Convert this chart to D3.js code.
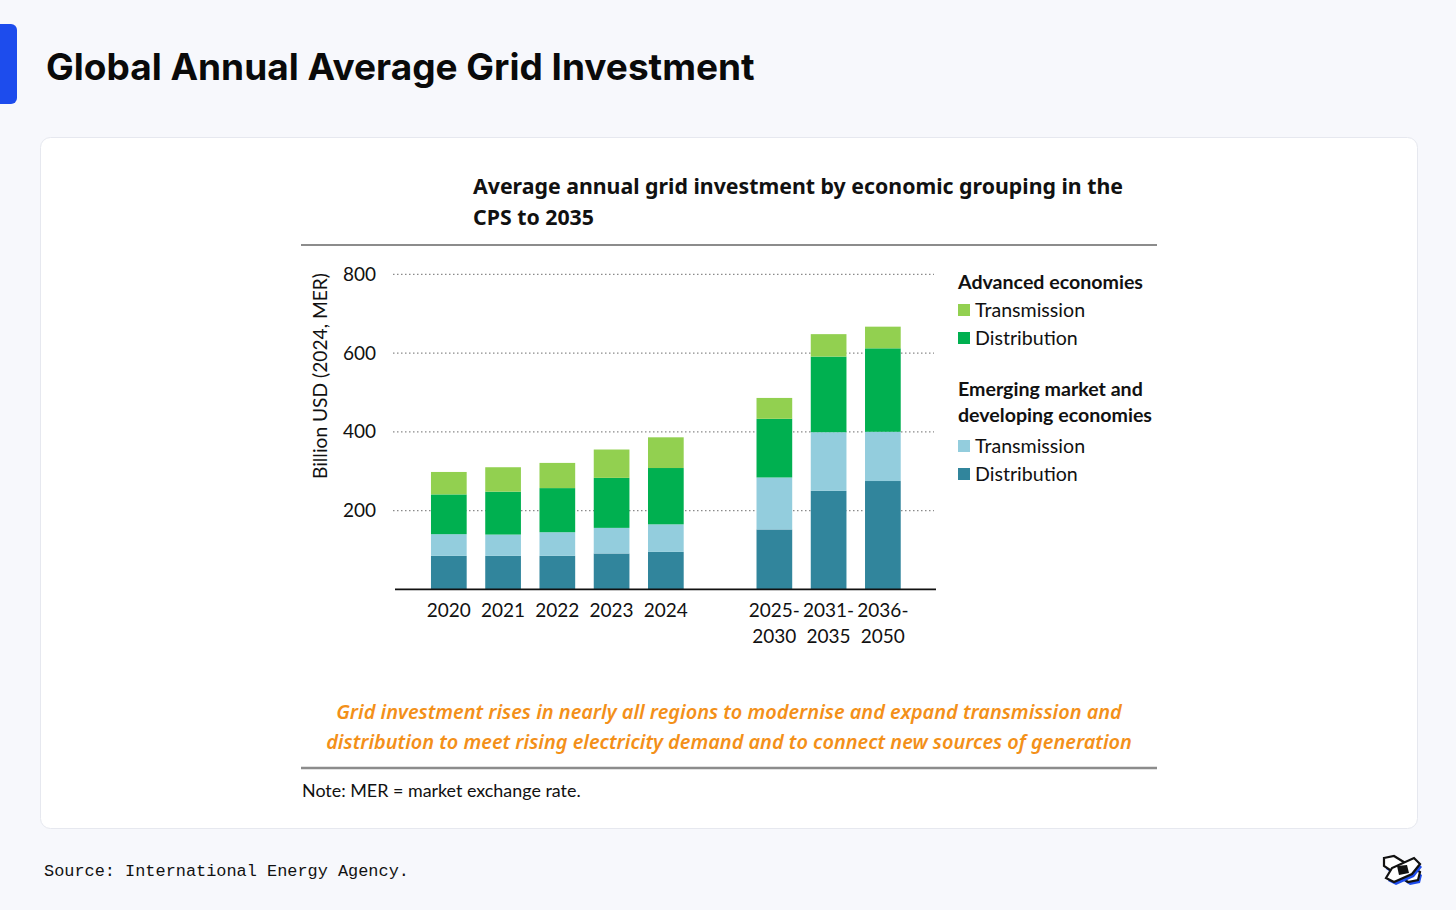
<!DOCTYPE html>
<html>
<head>
<meta charset="utf-8">
<script src="https://cdn.jsdelivr.net/npm/d3@7"></script>
<style>
  body { margin: 0; background: #f7f8fc; }
  svg { display: block; }
</style>
</head>
<body>
<svg width="1456" height="910"></svg>
<script>
// categories (a blank slot separates history from projections)
const categories = ["2020", "2021", "2022", "2023", "2024", "", "2025-2030", "2031-2035", "2036-2050"];
const tickLabels = [["2020"], ["2021"], ["2022"], ["2023"], ["2024"], [], ["2025-", "2030"], ["2031-", "2035"], ["2036-", "2050"]];

// billion USD (2024, MER), stacked bottom to top
const emdeDistribution = [85, 85, 85, 91, 95, 0, 152, 250, 275];
const emdeTransmission = [55, 54, 60, 65, 70, 0, 132, 149, 125];
const advDistribution  = [101, 109, 112, 127, 143, 0, 149, 192, 212];
const advTransmission  = [57, 62, 64, 72, 78, 0, 53, 57, 55];

const seriesKeys = ["emdeDist", "emdeTrans", "advDist", "advTrans"];
const colors = { emdeDist: "#31859c", emdeTrans: "#93cddd", advDist: "#00b050", advTrans: "#92d050" };
const yTicks = [200, 400, 600, 800];

const rows = categories.map((c, i) => ({
  cat: c,
  emdeDist: emdeDistribution[i],
  emdeTrans: emdeTransmission[i],
  advDist: advDistribution[i],
  advTrans: advTransmission[i]
}));

const svg = d3.select("svg");
const chartFont = "Lato, 'Open Sans', sans-serif";

// page header
svg.append("rect").attr("x", -10).attr("y", 24).attr("width", 27).attr("height", 80)
  .attr("rx", 6).attr("fill", "#1d4ced");
svg.append("text").attr("x", 46).attr("y", 80)
  .attr("font-family", "Inter, sans-serif").attr("font-weight", 700).attr("font-size", 37)
  .attr("fill", "#0a0a0a").text("Global Annual Average Grid Investment");

// card
svg.append("rect").attr("x", 40.5).attr("y", 137.5).attr("width", 1377).attr("height", 691)
  .attr("rx", 10).attr("fill", "#fff").attr("stroke", "#e6e8ef");

// chart title
const titleLines = ["Average annual grid investment by economic grouping in the", "CPS to 2035"];
svg.append("g").selectAll("text").data(titleLines).join("text")
  .attr("x", 473).attr("y", (d, i) => 194 + i * 31)
  .attr("font-family", "'Noto Sans', sans-serif").attr("font-weight", 700).attr("font-size", 21.3)
  .attr("fill", "#111").text(d => d);

svg.append("line").attr("x1", 301).attr("x2", 1157).attr("y1", 245).attr("y2", 245)
  .attr("stroke", "#8c8c8c").attr("stroke-width", 2);

// scales
const x = d3.scaleBand().domain(categories).range([421.7, 910]).paddingInner(0.342).paddingOuter(0.171);
const y = d3.scaleLinear().domain([0, 800]).range([589.3, 274.3]);

// gridlines
svg.append("g").selectAll("line").data(yTicks).join("line")
  .attr("x1", 393).attr("x2", 934)
  .attr("y1", d => y(d)).attr("y2", d => y(d))
  .attr("stroke", "#8a8a8a").attr("stroke-width", 1.3).attr("stroke-dasharray", "1.5,2.5");

// y axis (labels only)
const yAxis = svg.append("g").attr("transform", "translate(382,0)")
  .call(d3.axisLeft(y).tickValues(yTicks).tickSize(0).tickPadding(6));
yAxis.select(".domain").remove();
yAxis.selectAll("text").attr("font-family", chartFont).attr("font-size", 19).attr("fill", "#111");

svg.append("text")
  .attr("transform", "translate(327,376) rotate(-90)")
  .attr("text-anchor", "middle")
  .attr("font-family", chartFont).attr("font-size", 19.2).attr("fill", "#111")
  .text("Billion USD (2024, MER)");

// stacked bars
const stacked = d3.stack().keys(seriesKeys)(rows);
svg.append("g").selectAll("g").data(stacked).join("g")
  .attr("fill", d => colors[d.key])
  .selectAll("rect").data(d => d.filter(p => p.data.cat !== "")).join("rect")
  .attr("x", d => x(d.data.cat))
  .attr("width", x.bandwidth())
  .attr("y", d => y(d[1]))
  .attr("height", d => y(d[0]) - y(d[1]));

// baseline
svg.append("line").attr("x1", 395).attr("x2", 936).attr("y1", y(0)).attr("y2", y(0))
  .attr("stroke", "#111").attr("stroke-width", 1.8);

// x tick labels
const xLab = svg.append("g").selectAll("text").data(categories.map((c, i) => ({ c, lines: tickLabels[i] })))
  .join("text")
  .attr("x", d => x(d.c) + x.bandwidth() / 2)
  .attr("text-anchor", "middle")
  .attr("font-family", chartFont).attr("font-size", 19).attr("fill", "#111");
xLab.selectAll("tspan").data(d => d.lines).join("tspan")
  .attr("x", function () { return d3.select(this.parentNode).attr("x"); })
  .attr("y", (d, i) => 617 + i * 25.5)
  .text(d => d);

// legend
const legend = [
  { type: "head", text: "Advanced economies", y: 282 },
  { type: "item", key: "advTrans", text: "Transmission", y: 310 },
  { type: "item", key: "advDist", text: "Distribution", y: 338 },
  { type: "head", text: "Emerging market and", y: 389 },
  { type: "head", text: "developing economies", y: 415 },
  { type: "item", key: "emdeTrans", text: "Transmission", y: 446 },
  { type: "item", key: "emdeDist", text: "Distribution", y: 474 }
];
const lg = svg.append("g").selectAll("g").data(legend).join("g");
lg.filter(d => d.type === "item").append("rect")
  .attr("x", 958).attr("y", d => d.y - 6).attr("width", 12).attr("height", 12)
  .attr("fill", d => colors[d.key]);
lg.append("text")
  .attr("x", d => d.type === "item" ? 975 : 958)
  .attr("y", d => d.y).attr("dy", "0.35em")
  .attr("font-family", chartFont).attr("font-size", 19.6)
  .attr("font-weight", d => d.type === "head" ? 700 : 400)
  .attr("fill", "#111").text(d => d.text);

// orange caption
const caption = ["Grid investment rises in nearly all regions to modernise and expand transmission and",
  "distribution to meet rising electricity demand and to connect new sources of generation"];
svg.append("g").selectAll("text").data(caption).join("text")
  .attr("x", 729).attr("y", (d, i) => 719 + i * 30)
  .attr("text-anchor", "middle")
  .attr("font-family", "'Noto Sans', sans-serif").attr("font-style", "italic").attr("font-weight", 600)
  .attr("font-size", 19.9).attr("fill", "#f39019").text(d => d);

svg.append("line").attr("x1", 301).attr("x2", 1157).attr("y1", 768).attr("y2", 768)
  .attr("stroke", "#8c8c8c").attr("stroke-width", 2.5);

svg.append("text").attr("x", 302).attr("y", 797)
  .attr("font-family", chartFont).attr("font-size", 17.9).attr("fill", "#111")
  .text("Note: MER = market exchange rate.");

// source
svg.append("text").attr("x", 44).attr("y", 876)
  .attr("font-family", "'Liberation Mono', 'DejaVu Sans Mono', monospace").attr("font-size", 16.9)
  .attr("fill", "#111").text("Source: International Energy Agency.");

// logo
const logo = svg.append("g").attr("transform", "translate(1402,870)");
const wing = "M-18,-12 L-8,-14 L18,2 L16,10 L6,12 L-18,-4 Z";
const wing2 = "M-16,8 L-10,-2 L12,-12 L18,-6 L10,4 L-8,12 Z";
[wing, wing2].forEach(p => {
  logo.append("path").attr("d", p).attr("transform", "translate(2,3)").attr("fill", "#1d4ced");
  logo.append("path").attr("d", p).attr("fill", "#fff").attr("stroke", "#111").attr("stroke-width", 2.2);
});
logo.append("path").attr("d", "M-5,-4 L5,-5 L7,3 L-3,5 Z").attr("fill", "#111");
</script>
</body>
</html>
